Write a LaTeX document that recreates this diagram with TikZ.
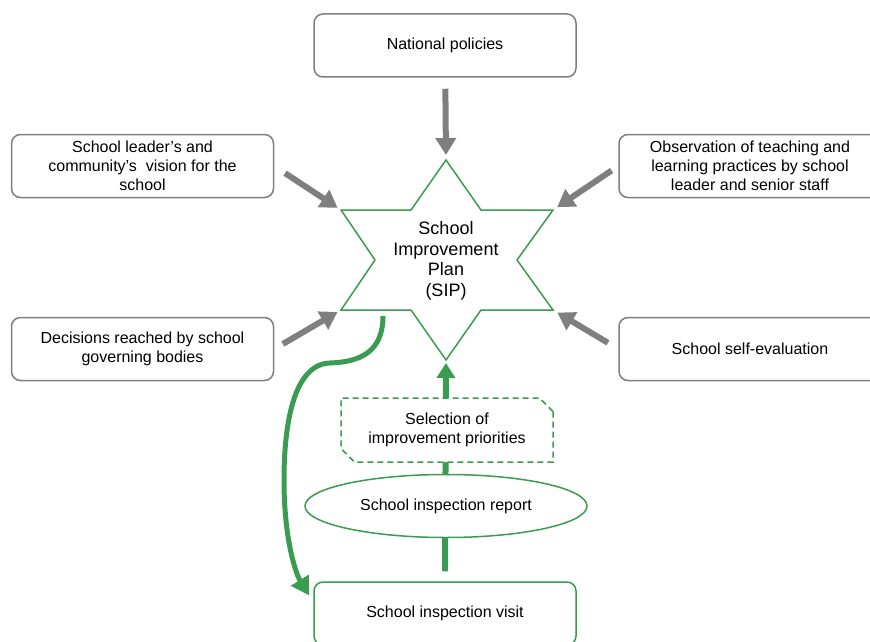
\documentclass[tikz,border=0pt]{standalone}
\usepackage{fontspec}
\setmainfont{Liberation Sans}
\usetikzlibrary{arrows.meta,shapes.geometric,shapes.misc,backgrounds,calc}
\definecolor{sipgreen}{RGB}{58,156,80}
\definecolor{sipgray}{RGB}{127,127,127}

\begin{document}
\begin{tikzpicture}[x=1pt,y=-1pt,
  inbox/.style={draw=sipgray,line width=1.5pt,rounded corners=9pt,fill=white,
    minimum width=262pt,minimum height=63pt,align=center,font=\fontsize{16}{19}\selectfont},
  greenbox/.style={inbox,draw=sipgreen},
  feedarrow/.style={draw=sipgray,line width=6pt,-{Triangle[width=20pt,length=17pt]}},
  backarrow/.style={draw=sipgreen,line width=5pt,-{Triangle[width=20pt,length=18pt]}},
  uparrow/.style={draw=sipgreen,line width=6pt,-{Triangle[width=18pt,length=15pt]}}]
  \useasboundingbox (0,0) rectangle (870,642);
  % star points
  \coordinate (ptop) at (446,160);
  \coordinate (pul) at (341,210);
  \coordinate (pur) at (553,210);
  \coordinate (pll) at (341,310);
  \coordinate (plr) at (553,310);
  \coordinate (pbot) at (446,360);
  \draw[sipgreen,line width=1.5pt,fill=white] (ptop) -- (481,210) -- (pur) -- (517,260)
    -- (plr) -- (481,310) -- (pbot) -- (411,310) -- (pll) -- (375,260) -- (pul) -- (411,210) -- cycle;
  \node[align=center,font=\fontsize{18}{20.5}\selectfont] (sip) at (446,261)
    {School\\Improvement\\Plan\\(SIP)};
  % input boxes
  \node[inbox] (policies) at (445,45.5) {National policies};
  \node[inbox] (vision) at (142.5,166) {School leader’s and\\community’s\ \ vision for the\\school};
  \node[inbox] (observe) at (750,166) {Observation of teaching and\\learning practices by school\\leader and senior staff};
  \node[inbox] (decide) at (142.5,349) {Decisions reached by school\\governing bodies};
  \node[inbox] (selfeval) at (750,349) {School self-evaluation};
  \draw[feedarrow,shorten <=11pt,shorten >=5pt] (policies) -- (ptop);
  \draw[feedarrow,shorten <=13pt,shorten >=4pt] (vision.east) -- (pul);
  \draw[feedarrow,shorten <=8pt,shorten >=5pt] (observe.west) -- (pur);
  \draw[feedarrow,shorten <=10pt,shorten >=4pt] (decide.east) -- (pll);
  \draw[feedarrow,shorten <=12pt,shorten >=5pt] (selfeval.west) -- (plr);
  % inspection cycle
  \node[greenbox] (visit) at (445,613.5) {School inspection visit};
  \node[ellipse,draw=sipgreen,line width=1.5pt,fill=white,minimum width=282pt,minimum height=63pt,
    inner sep=0pt,font=\fontsize{16}{19}\selectfont] (report) at (446,506) {School inspection report};
  \node[chamfered rectangle,chamfered rectangle corners={north east,south west},chamfered rectangle xsep=10pt,
    draw=sipgreen,dash pattern=on 6pt off 4pt,line width=1.5pt,fill=white,minimum width=212pt,minimum height=64pt,
    align=center,font=\fontsize{16}{19}\selectfont] (select) at (447,430) {Selection of\\improvement priorities};
  \begin{scope}[on background layer]
    \draw[uparrow,shorten <=10pt,shorten >=3pt] (visit.north) -- (pbot);
  \end{scope}
  \coordinate (loopstart) at (383,316);
  \draw[backarrow] (loopstart) .. controls (383,352) and (360,362) .. (330,363)
    .. controls (295,364) and (284,420) .. (284,480)
    .. controls (284,540) and (296,574) .. ($(visit.west)+(-4,-18)$);
\end{tikzpicture}
\end{document}
